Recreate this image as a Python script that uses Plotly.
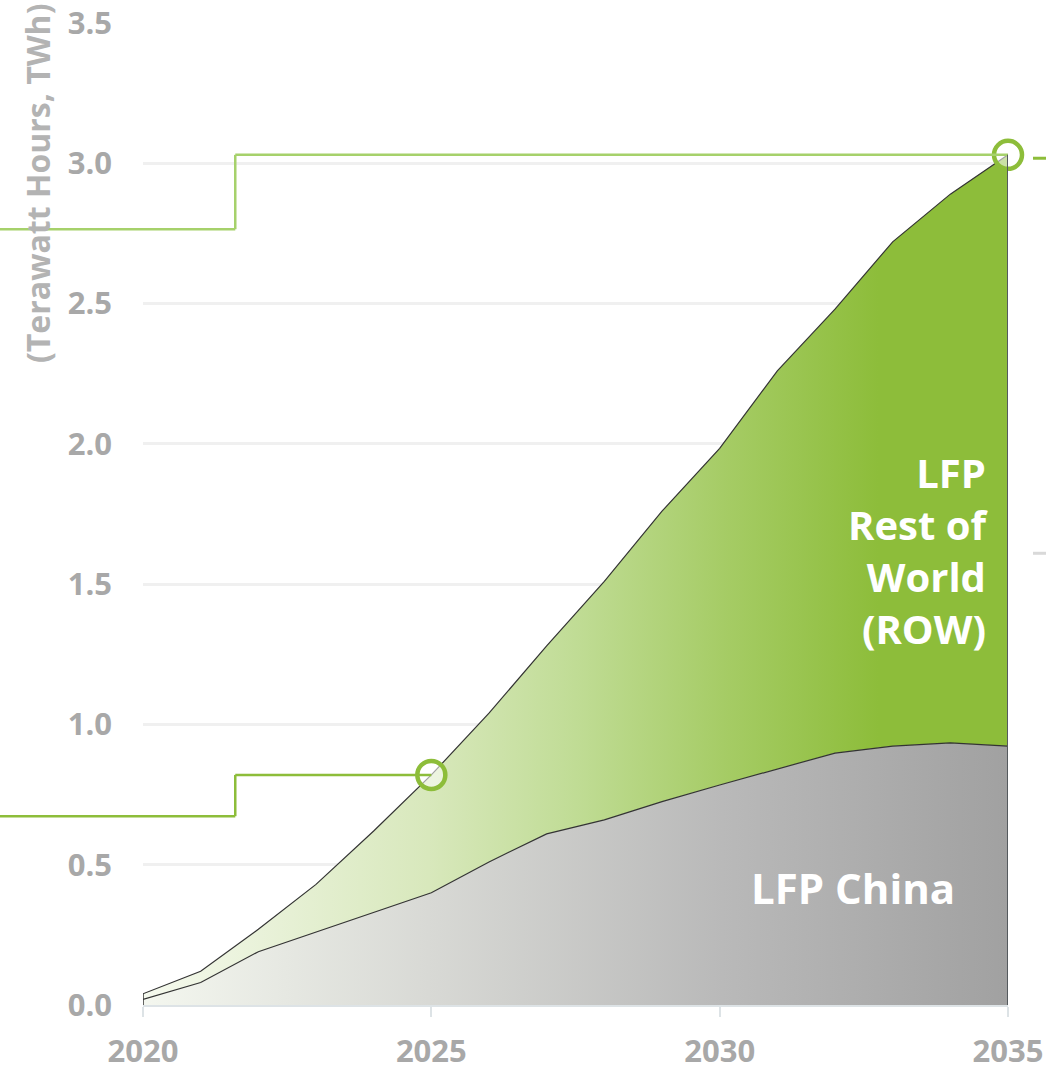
import plotly.graph_objects as go

# ---- data ----
years = list(range(2020, 2036))
china = [0.02, 0.08, 0.19, 0.26, 0.33, 0.40, 0.51, 0.61, 0.66, 0.725, 0.784, 0.84, 0.898, 0.923, 0.934, 0.923]
row = [0.02, 0.04, 0.08, 0.17, 0.29, 0.42, 0.53, 0.67, 0.85, 1.035, 1.20, 1.42, 1.582, 1.797, 1.956, 2.107]
y_ticks = [0.0, 0.5, 1.0, 1.5, 2.0, 2.5, 3.0, 3.5]
x_ticks = [2020, 2025, 2030, 2035]
row_label = "LFP<br>Rest of<br>World<br>(ROW)"
china_label = "LFP China"
y_title = "(Terawatt Hours, TWh)"
# annotation step-line levels (TWh)
low_prev, low_new = 0.673, 0.82
high_prev, high_new = 2.765, 3.03
step_year = 2021.6
right_mark_green = 3.018
right_mark_gray = 1.61

total = [c + r for c, r in zip(china, row)]

W, H = 1046, 1070
ML, MR, MT, MB = 143, 38, 23, 65
PW = W - ML - MR
PH = H - MT - MB
x0, x1 = years[0], years[-1]


def px_to_paper_x(px):
    return (px - ML) / PW


def year_to_paper(yr):
    return (yr - x0) / (x1 - x0)


fig = go.Figure()

fig.add_trace(go.Scatter(
    x=years, y=china, mode="lines", fill="tozeroy",
    line=dict(color="#333333", width=1.2),
    fillgradient=dict(type="horizontal", colorscale=[
        [0.0, "#f4f7ef"], [0.33, "#d8d9d5"], [0.67, "#b9b9b9"], [1.0, "#a1a1a1"]]),
    hoverinfo="skip", showlegend=False,
))
fig.add_trace(go.Scatter(
    x=years, y=total, mode="lines", fill="tonexty",
    line=dict(color="#333333", width=1.2),
    fillgradient=dict(type="horizontal", colorscale=[
        [0.0, "#f5f9ee"], [0.33, "#d8e8bc"], [0.5, "#c0dc95"], [0.67, "#a6cc66"],
        [0.85, "#8dbd3a"], [1.0, "#8dbd3a"]]),
    hoverinfo="skip", showlegend=False,
))

shapes = []
lw = 2.5
c_low = "#8dbd3a"
shapes += [
    dict(type="line", xref="paper", yref="y", x0=px_to_paper_x(0), x1=year_to_paper(step_year),
         y0=low_prev, y1=low_prev, line=dict(color=c_low, width=lw)),
    dict(type="line", xref="paper", yref="y", x0=year_to_paper(step_year), x1=year_to_paper(step_year),
         y0=low_prev, y1=low_new, line=dict(color=c_low, width=lw)),
    dict(type="line", xref="paper", yref="y", x0=year_to_paper(step_year), x1=year_to_paper(2025),
         y0=low_new, y1=low_new, line=dict(color=c_low, width=lw)),
]
c_high = "#a6d16b"
shapes += [
    dict(type="line", xref="paper", yref="y", x0=px_to_paper_x(0), x1=year_to_paper(step_year),
         y0=high_prev, y1=high_prev, line=dict(color=c_high, width=lw)),
    dict(type="line", xref="paper", yref="y", x0=year_to_paper(step_year), x1=year_to_paper(step_year),
         y0=high_prev, y1=high_new, line=dict(color=c_high, width=lw)),
    dict(type="line", xref="paper", yref="y", x0=year_to_paper(step_year), x1=year_to_paper(2035),
         y0=high_new, y1=high_new, line=dict(color=c_high, width=lw)),
    dict(type="line", xref="paper", yref="y", x0=px_to_paper_x(1033), x1=px_to_paper_x(1046),
         y0=right_mark_green, y1=right_mark_green, line=dict(color="#8dbd3a", width=3)),
    dict(type="line", xref="paper", yref="y", x0=px_to_paper_x(1033), x1=px_to_paper_x(1046),
         y0=right_mark_gray, y1=right_mark_gray, line=dict(color="#d9d9d9", width=3)),
]
shapes += [
    dict(type="line", xref="x", yref="y", x0=years[-1], x1=years[-1], y0=0, y1=total[-1],
         line=dict(color="#555a5e", width=2)),
    dict(type="line", xref="x", yref="y", x0=years[0], x1=years[0], y0=0, y1=total[0],
         line=dict(color="#333333", width=1.5)),
]

fig.add_trace(go.Scatter(
    x=[2025, 2035], y=[low_new, high_new], mode="markers",
    marker=dict(symbol="circle", size=28, color="rgba(255,255,255,0.55)",
                line=dict(color="#8dbd3a", width=4.5)),
    cliponaxis=False, hoverinfo="skip", showlegend=False,
))

annotations = [
    dict(text=china_label, x=2032.31, y=0.42, xref="x", yref="y", showarrow=False,
         xanchor="center", yanchor="middle",
         font=dict(family="Open Sans", size=42, color="white", weight="bold")),
    dict(text=y_title, x=px_to_paper_x(37), y=(H - MB - 183) / PH,
         xref="paper", yref="paper", textangle=-90, showarrow=False,
         xanchor="center", yanchor="middle",
         font=dict(family="Open Sans", size=32, color="#b3b3b3", weight="bold")),
    dict(text=row_label, x=2034.68, y=1.62, xref="x", yref="y",
         xanchor="right", yanchor="middle", align="right", showarrow=False,
         font=dict(family="Open Sans", size=40, color="white", weight="bold")),
]

fig.update_layout(
    width=W, height=H,
    margin=dict(l=ML, r=MR, t=MT, b=MB),
    paper_bgcolor="white", plot_bgcolor="white",
    shapes=shapes, annotations=annotations,
    font=dict(family="Open Sans"),
    xaxis=dict(range=[x0, x1], tickvals=x_ticks, ticktext=[str(t) for t in x_ticks],
               automargin=False,
               showgrid=False, zeroline=False, showline=True, linecolor="#dde3e6", linewidth=2,
               ticks="outside", ticklen=10, tickwidth=2, tickcolor="#dde3e6",
               ticklabelstandoff=8,
               tickfont=dict(family="Open Sans", size=31, color="#a8a8a8", weight="bold")),
    yaxis=dict(range=[0, 3.5], tickvals=y_ticks, ticktext=[f"{v:.1f}" for v in y_ticks],
               automargin=False,
               showgrid=True, gridcolor="#f0f0f0", gridwidth=3, zeroline=False,
               showline=False, ticks="", ticklabelstandoff=30,
               tickfont=dict(family="Open Sans", size=31, color="#a8a8a8", weight="bold")),
)

fig.write_html("out.html", config={"displayModeBar": False},
               post_script="document.body.style.margin='0px';")
